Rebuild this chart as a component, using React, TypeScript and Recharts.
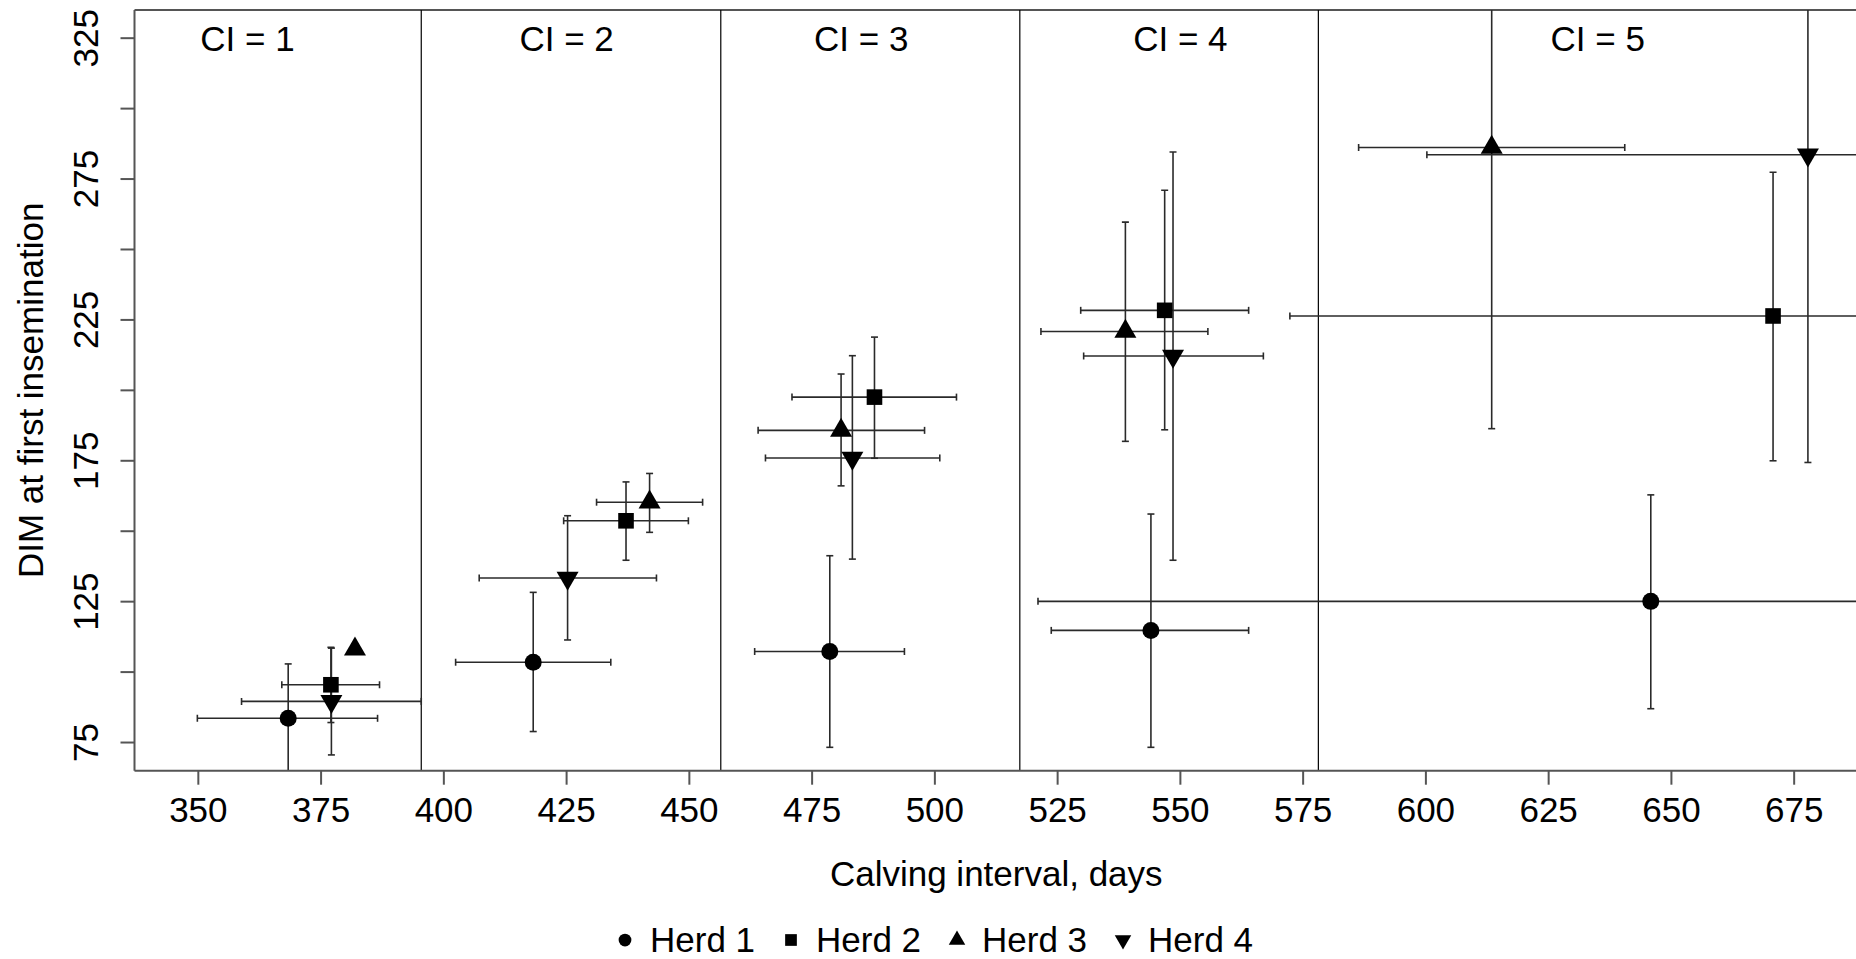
import React from 'react'
import { ComposedChart, Scatter, XAxis, YAxis, ErrorBar, ReferenceLine, Legend } from 'recharts'

const FONT = '"Liberation Sans", Arial, Helvetica, sans-serif'
const FS = 35

const ciGroups = [1, 2, 3, 4, 5]
const ciLabels = ['CI = 1', 'CI = 2', 'CI = 3', 'CI = 4', 'CI = 5']
const ciLabelX = [360, 425, 485, 550, 635]
const ciLabelY = [325, 325, 325, 325, 325]
const ciBoundaries = [395.4, 456.4, 517.3, 578.1]

const xTicks = [350, 375, 400, 425, 450, 475, 500, 525, 550, 575, 600, 625, 650, 675]
const yTicks = [75, 100, 125, 150, 175, 200, 225, 250, 275, 300, 325]
const yLabelled = [75, 125, 175, 225, 275, 325]

const herds = ['Herd 1', 'Herd 2', 'Herd 3', 'Herd 4']

// Herd 1 (circle): calving interval mean + CI, DIM mean + CI
const herd1Ci = [368.3, 418.2, 478.6, 544.0, 645.8]
const herd1CiLow = [349.8, 402.4, 463.3, 523.7, 521.0]
const herd1CiHigh = [386.5, 434.0, 493.8, 563.9, 770.6]
const herd1Dim = [83.6, 103.5, 107.3, 114.8, 125.1]
const herd1DimLow = [64.3, 78.9, 73.3, 73.3, 87.0]
const herd1DimHigh = [102.9, 128.3, 141.3, 156.1, 162.9]

// Herd 2 (square)
const herd2Ci = [377.0, 437.1, 487.7, 546.8, 670.7]
const herd2CiLow = [367.0, 424.4, 470.9, 529.7, 572.3]
const herd2CiHigh = [386.9, 449.8, 504.4, 563.9, 769.1]
const herd2Dim = [95.5, 153.7, 197.6, 228.4, 226.4]
const herd2DimLow = [82.1, 139.7, 175.9, 186.0, 175.0]
const herd2DimHigh = [108.8, 167.5, 218.9, 271.0, 277.4]

// Herd 3 (triangle) - no interval drawn for CI = 1
const herd3Ci = [381.9, 441.9, 480.9, 538.8, 613.4]
const herd3CiLow = [null, 431.1, 464.0, 521.6, 586.3]
const herd3CiHigh = [null, 452.7, 497.9, 555.6, 640.5]
const herd3Dim = [108.1, 160.3, 185.8, 220.9, 286.2]
const herd3DimLow = [null, 149.6, 166.1, 181.9, 186.4]
const herd3DimHigh = [null, 170.5, 205.8, 259.7, 386.0]

// Herd 4 (inverted triangle)
const herd4Ci = [377.1, 425.2, 483.2, 548.5, 677.8]
const herd4CiLow = [358.8, 407.2, 465.5, 530.3, 600.2]
const herd4CiHigh = [395.4, 443.3, 501.0, 566.9, 755.4]
const herd4Dim = [89.6, 133.4, 176.0, 212.2, 283.6]
const herd4DimLow = [70.6, 111.4, 140.1, 139.7, 174.4]
const herd4DimHigh = [108.5, 155.5, 212.3, 284.6, 392.8]

type Pt = {
  ci: number
  x: number
  y: number
  errX: number[] | null
  errY: number[] | null
}

function buildPoints(
  x: number[],
  xl: (number | null)[],
  xh: (number | null)[],
  y: number[],
  yl: (number | null)[],
  yh: (number | null)[],
): Pt[] {
  return x.map((v, i) => ({
    ci: ciGroups[i],
    x: v,
    y: y[i],
    errX: xl[i] == null ? null : [v - (xl[i] as number), (xh[i] as number) - v],
    errY: yl[i] == null ? null : [y[i] - (yl[i] as number), (yh[i] as number) - y[i]],
  }))
}

const herd1 = buildPoints(herd1Ci, herd1CiLow, herd1CiHigh, herd1Dim, herd1DimLow, herd1DimHigh)
const herd2 = buildPoints(herd2Ci, herd2CiLow, herd2CiHigh, herd2Dim, herd2DimLow, herd2DimHigh)
const herd3 = buildPoints(herd3Ci, herd3CiLow, herd3CiHigh, herd3Dim, herd3DimLow, herd3DimHigh)
const herd4 = buildPoints(herd4Ci, herd4CiLow, herd4CiHigh, herd4Dim, herd4DimLow, herd4DimHigh)

const ciLabelData = ciLabels.map((label, i) => ({ x: ciLabelX[i], y: ciLabelY[i], label }))

// plot box in pixels (chart is 1860 wide, right edge runs just past the page)
const PLOT = { x: 134.5, y: 10, w: 1723.5, h: 760.7 }

// marker glyphs
function symbolFor(kind: number, cx: number, cy: number, s: number) {
  if (kind === 0) return <circle cx={cx} cy={cy} r={8.5 * s} fill="#000" />
  if (kind === 1) {
    const h = 7.8 * s
    return <rect x={cx - h} y={cy - h} width={2 * h} height={2 * h} fill="#000" />
  }
  const w = 11 * s
  const t = 19 * s
  if (kind === 2) {
    return (
      <polygon
        points={`${cx},${cy - (2 * t) / 3} ${cx + w},${cy + t / 3} ${cx - w},${cy + t / 3}`}
        fill="#000"
      />
    )
  }
  return (
    <polygon
      points={`${cx},${cy + (2 * t) / 3} ${cx + w},${cy - t / 3} ${cx - w},${cy - t / 3}`}
      fill="#000"
    />
  )
}

const markShape = (kind: number) => (props: any) => symbolFor(kind, props.cx, props.cy, 1)

function CiLabel(props: any) {
  return (
    <text
      x={props.cx}
      y={props.cy}
      dy={13}
      textAnchor="middle"
      fontSize={FS}
      fontFamily={FONT}
      fill="#000"
    >
      {props.payload.label}
    </text>
  )
}

function XTick({ x, y, payload }: any) {
  return (
    <text x={x} y={y + 37} textAnchor="middle" fontSize={FS} fontFamily={FONT} fill="#000">
      {payload.value}
    </text>
  )
}

function YTick({ x, y, payload }: any) {
  if (!yLabelled.includes(payload.value)) return <g />
  const bx = x - 22
  return (
    <text
      x={bx}
      y={y}
      transform={`rotate(-90, ${bx}, ${y})`}
      textAnchor="middle"
      fontSize={FS}
      fontFamily={FONT}
      fill="#000"
    >
      {payload.value}
    </text>
  )
}

function XTitle({ viewBox }: any) {
  const { x, y, width } = viewBox
  return (
    <text x={x + width / 2} y={y + 115} textAnchor="middle" fontSize={FS} fontFamily={FONT} fill="#000">
      Calving interval, days
    </text>
  )
}

function YTitle({ viewBox }: any) {
  const { y, height } = viewBox
  const cx = 43
  const cy = y + height / 2
  return (
    <text
      x={cx}
      y={cy}
      transform={`rotate(-90, ${cx}, ${cy})`}
      textAnchor="middle"
      fontSize={FS}
      fontFamily={FONT}
      fill="#000"
    >
      DIM at first insemination
    </text>
  )
}

function HerdLegend() {
  return (
    <div style={{ position: 'relative', width: 0, height: 0 }}>
      <svg
        width={1856}
        height={959}
        style={{ position: 'absolute', left: 0, top: 0, overflow: 'visible' }}
      >
        {herds.map((h, i) => {
          const cx = 625 + i * 166
          return (
            <g key={h}>
              {symbolFor(i, cx, 940, 0.75)}
              <text x={cx + 25} y={952} fontSize={FS} fontFamily={FONT} fill="#000">
                {h}
              </text>
            </g>
          )
        })}
      </svg>
    </div>
  )
}

const barStyle = { stroke: '#2a2a2a', strokeWidth: 1.6 }

export default function App() {
  return (
    <div
      style={{
        position: 'fixed',
        left: 0,
        top: 0,
        width: 1856,
        height: 959,
        overflow: 'hidden',
        background: '#fff',
      }}
    >
      <style>{`.recharts-errorBar, .recharts-errorBars { clip-path: url(#plot-box-clip); }`}</style>
      <svg width={0} height={0} style={{ position: 'absolute' }}>
        <defs>
          <clipPath id="plot-box-clip" clipPathUnits="userSpaceOnUse">
            <rect x={PLOT.x} y={PLOT.y} width={PLOT.w} height={PLOT.h} />
          </clipPath>
        </defs>
      </svg>
      <ComposedChart width={1860} height={959} margin={{ top: 10, right: 2, bottom: 128.3, left: 0 }}>
        <XAxis
          type="number"
          dataKey="x"
          domain={[337, 688]}
          allowDataOverflow
          ticks={xTicks}
          interval={0}
          height={60}
          tickSize={14}
          tickMargin={0}
          axisLine={{ stroke: '#555', strokeWidth: 2 }}
          tickLine={{ stroke: '#555', strokeWidth: 2 }}
          tick={XTick}
          label={{ content: XTitle }}
        />
        <YAxis
          type="number"
          dataKey="y"
          domain={[65, 335]}
          allowDataOverflow
          ticks={yTicks}
          interval={0}
          width={134.5}
          tickSize={14}
          tickMargin={0}
          axisLine={{ stroke: '#555', strokeWidth: 2 }}
          tickLine={{ stroke: '#555', strokeWidth: 2 }}
          tick={YTick}
          label={{ content: YTitle }}
        />
        <ReferenceLine y={335} stroke="#555" strokeWidth={2} />
        {ciBoundaries.map((b) => (
          <ReferenceLine key={b} x={b} stroke="#000" strokeWidth={1.2} />
        ))}
        <Scatter name="Herd 1" data={herd1} shape={markShape(0)} isAnimationActive={false}>
          <ErrorBar dataKey="errX" direction="x" width={3.5} {...barStyle} isAnimationActive={false} />
          <ErrorBar dataKey="errY" direction="y" width={3.5} {...barStyle} isAnimationActive={false} />
        </Scatter>
        <Scatter name="Herd 2" data={herd2} shape={markShape(1)} isAnimationActive={false}>
          <ErrorBar dataKey="errX" direction="x" width={3.5} {...barStyle} isAnimationActive={false} />
          <ErrorBar dataKey="errY" direction="y" width={3.5} {...barStyle} isAnimationActive={false} />
        </Scatter>
        <Scatter name="Herd 3" data={herd3} shape={markShape(2)} isAnimationActive={false}>
          <ErrorBar dataKey="errX" direction="x" width={3.5} {...barStyle} isAnimationActive={false} />
          <ErrorBar dataKey="errY" direction="y" width={3.5} {...barStyle} isAnimationActive={false} />
        </Scatter>
        <Scatter name="Herd 4" data={herd4} shape={markShape(3)} isAnimationActive={false}>
          <ErrorBar dataKey="errX" direction="x" width={3.5} {...barStyle} isAnimationActive={false} />
          <ErrorBar dataKey="errY" direction="y" width={3.5} {...barStyle} isAnimationActive={false} />
        </Scatter>
        <Scatter
          name="labels"
          data={ciLabelData}
          shape={CiLabel}
          legendType="none"
          isAnimationActive={false}
        />
        <Legend
          verticalAlign="top"
          content={HerdLegend}
          wrapperStyle={{ left: 0, top: 0, width: 0, height: 0 }}
        />
      </ComposedChart>
    </div>
  )
}
